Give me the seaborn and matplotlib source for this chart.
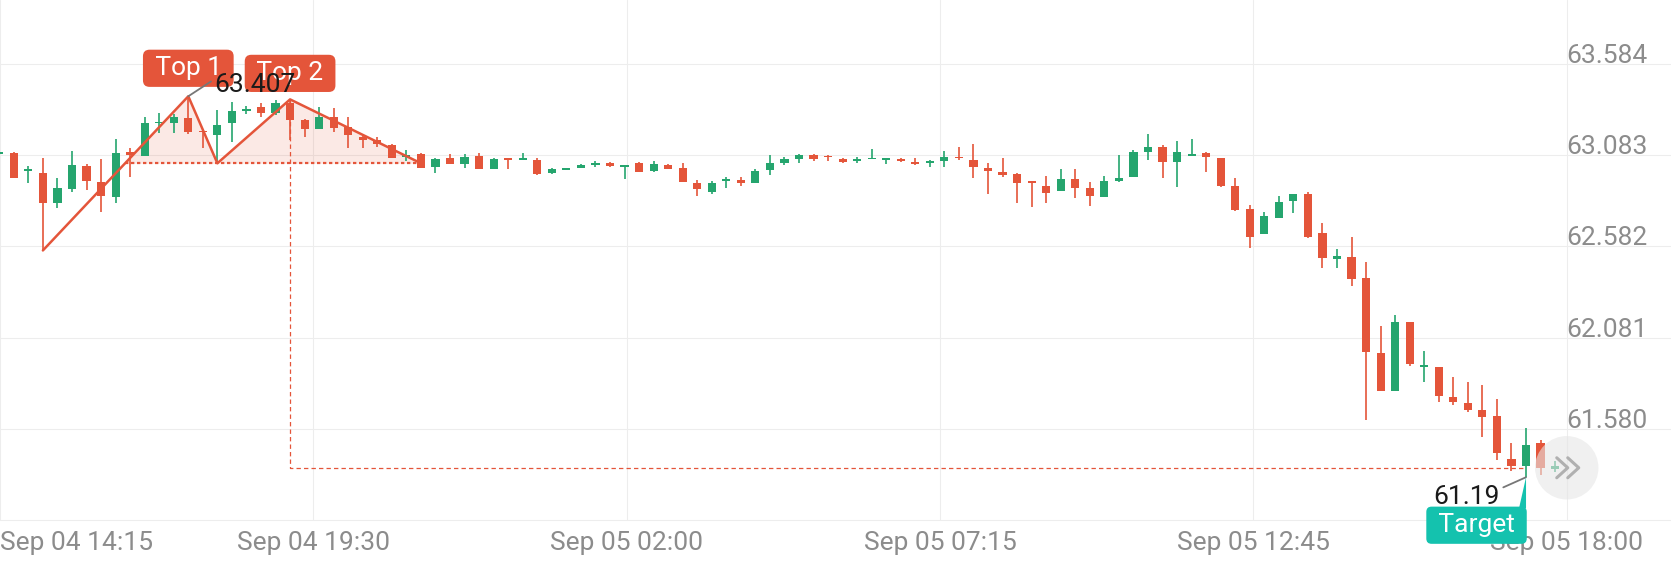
import numpy as np
import matplotlib
matplotlib.use("Agg")
import matplotlib.pyplot as plt
import matplotlib.transforms as mtransforms
from matplotlib.patches import Circle, Polygon
from matplotlib.lines import Line2D
import seaborn as sns

# OHLC por vela (indice = posicion en el eje)
opens = [63.090, 63.097, 62.996, 62.987, 62.819, 62.898, 63.024, 62.938, 62.855, 63.099,
         63.079, 63.258, 63.262, 63.286, 63.218, 63.194, 63.258, 63.328, 63.346, 63.313,
         63.368, 63.277, 63.225, 63.291, 63.240, 63.185, 63.167, 63.139, 63.071, 63.090,
         63.021, 63.066, 63.033, 63.079, 63.010, 63.066, 63.057, 63.057, 62.984, 63.004,
         63.013, 63.030, 63.043, 63.021, 63.039, 62.999, 63.030, 63.012, 62.929, 62.883,
         62.942, 62.947, 62.933, 63.002, 63.043, 63.063, 63.085, 63.079, 63.063, 63.052,
         63.061, 63.058, 63.063, 63.048, 63.039, 63.054, 63.076, 63.057, 63.012, 62.993,
         62.980, 62.938, 62.915, 62.889, 62.953, 62.902, 62.856, 62.944, 62.962, 63.103,
         63.131, 63.045, 63.081, 63.098, 63.066, 62.914, 62.786, 62.649, 62.737, 62.834,
         62.870, 62.654, 62.515, 62.526, 62.407, 61.995, 61.790, 62.165, 61.918, 61.922,
         61.757, 61.724, 61.681, 61.651, 61.413, 61.377, 61.501, 61.358]
highs = [63.100, 63.103, 63.024, 63.070, 62.956, 63.106, 63.033, 63.061, 63.172, 63.125,
         63.291, 63.317, 63.310, 63.407, 63.222, 63.331, 63.377, 63.353, 63.372, 63.386,
         63.390, 63.280, 63.350, 63.341, 63.291, 63.200, 63.185, 63.145, 63.112, 63.097,
         63.066, 63.088, 63.088, 63.094, 63.070, 63.066, 63.094, 63.070, 63.015, 63.012,
         63.033, 63.052, 63.048, 63.030, 63.048, 63.052, 63.035, 63.039, 62.947, 62.942,
         62.962, 62.966, 63.006, 63.085, 63.076, 63.088, 63.088, 63.085, 63.066, 63.076,
         63.116, 63.066, 63.066, 63.070, 63.057, 63.109, 63.127, 63.143, 63.039, 63.066,
         62.984, 62.938, 62.969, 63.008, 63.006, 62.938, 62.971, 63.085, 63.112, 63.198,
         63.140, 63.162, 63.171, 63.103, 63.066, 62.956, 62.810, 62.769, 62.861, 62.870,
         62.883, 62.713, 62.566, 62.632, 62.495, 62.145, 62.205, 62.165, 62.008, 61.922,
         61.863, 61.839, 61.822, 61.743, 61.501, 61.583, 61.516, 61.404]
lows = [63.085, 62.956, 62.929, 62.560, 62.791, 62.883, 62.892, 62.773, 62.819, 62.965,
        63.079, 63.203, 63.207, 63.198, 63.121, 63.039, 63.158, 63.310, 63.295, 63.304,
        63.167, 63.185, 63.225, 63.212, 63.121, 63.121, 63.126, 63.066, 63.053, 63.011,
        62.988, 63.035, 63.012, 63.008, 63.008, 63.006, 63.057, 62.975, 62.979, 63.002,
        63.012, 63.017, 63.021, 62.953, 62.990, 62.993, 63.006, 62.935, 62.860, 62.871,
        62.902, 62.916, 62.929, 62.975, 63.030, 63.043, 63.052, 63.052, 63.039, 63.039,
        63.061, 63.034, 63.048, 63.030, 63.017, 63.021, 63.057, 62.957, 62.871, 62.966,
        62.819, 62.797, 62.823, 62.889, 62.850, 62.805, 62.852, 62.938, 62.962, 63.057,
        62.960, 62.907, 63.081, 62.990, 62.911, 62.777, 62.572, 62.649, 62.737, 62.768,
        62.627, 62.462, 62.462, 62.365, 61.630, 61.790, 61.790, 61.927, 61.839, 61.728,
        61.710, 61.673, 61.534, 61.406, 61.349, 61.314, 61.327, 61.345]
closes = [63.098, 62.960, 62.999, 62.819, 62.901, 63.029, 62.943, 62.861, 63.093, 63.084,
          63.262, 63.267, 63.295, 63.211, 63.210, 63.249, 63.328, 63.337, 63.313, 63.368,
          63.277, 63.225, 63.295, 63.231, 63.194, 63.167, 63.145, 63.066, 63.084, 63.011,
          63.061, 63.035, 63.076, 63.008, 63.065, 63.057, 63.065, 62.979, 63.006, 63.010,
          63.030, 63.039, 63.026, 63.030, 62.993, 63.033, 63.008, 62.935, 62.896, 62.933,
          62.953, 62.933, 62.999, 63.039, 63.061, 63.085, 63.061, 63.072, 63.048, 63.061,
          63.066, 63.066, 63.052, 63.035, 63.052, 63.076, 63.066, 63.017, 62.999, 62.975,
          62.929, 62.933, 62.874, 62.951, 62.905, 62.860, 62.942, 62.960, 63.103, 63.131,
          63.045, 63.103, 63.088, 63.076, 62.915, 62.782, 62.636, 62.749, 62.828, 62.870,
          62.636, 62.517, 62.530, 62.401, 62.004, 61.790, 62.169, 61.935, 61.931, 61.762,
          61.729, 61.684, 61.644, 61.446, 61.377, 61.492, 61.364, 61.377]

x_ticks = [0.05, 21.6, 43.15, 64.7, 86.25, 107.8]
x_labels = ['Sep 04 14:15', 'Sep 04 19:30', 'Sep 05 02:00',
            'Sep 05 07:15', 'Sep 05 12:45', 'Sep 05 18:00']
y_ticks = [63.584, 63.083, 62.582, 62.081, 61.580]

# Doble techo
pattern_x = [3, 13, 15, 20, 29]
pattern_y = [62.560, 63.407, 63.039, 63.390, 63.039]
neckline = 63.039
target_idx = 105
target_low = 61.314
target_level = 61.366

RED = '#E4553A'
GREEN = '#25A56E'
TEAL = '#14C2AE'
GRID = '#EDEDED'
LABEL = '#8C8C8C'
THIN = '\u2009'

sns.set_theme(style='white')
plt.rcParams['font.family'] = ['Roboto', 'DejaVu Sans']

fig = plt.figure(figsize=(16.71, 5.62), dpi=100)
ax = fig.add_axes([0, 42 / 562, 1, 520 / 562])
ax.set_xlim(0.127, 114.97)
ax.set_ylim(61.079, 63.936)

# Velas
o = np.array(opens)
c = np.array(closes)
x = np.arange(len(o))
colores = np.where(c >= o, GREEN, RED)
ax.vlines(x, lows, highs, colors=colores, lw=1.2, zorder=3)
cuerpo = np.maximum(np.abs(c - o), 0.009)
ax.bar(x, cuerpo, bottom=np.minimum(o, c), width=0.56, color=colores,
       linewidth=0, zorder=3)

# Patron
xx = np.linspace(pattern_x[0], pattern_x[-1], 800)
yy = np.interp(xx, pattern_x, pattern_y)
ax.fill_between(xx, neckline, yy, where=yy >= neckline, interpolate=True,
                color=RED, alpha=0.13, lw=0, zorder=2)
x_cruce = np.interp(neckline, pattern_y[:2], pattern_x[:2])
ax.hlines(neckline, x_cruce, pattern_x[-1], colors=RED, lw=1.6,
          linestyles=(0, (1.5, 1.2)), zorder=4)
ax.plot([pattern_x[3], pattern_x[3], target_idx],
        [pattern_y[3], target_level, target_level],
        color=RED, lw=0.9, ls=(0, (3.5, 2.5)), zorder=2)
sns.lineplot(x=pattern_x, y=pattern_y, sort=False, ax=ax, color=RED,
             lw=1.8, zorder=5)

# Ejes y rejilla
ax.set_yticks(y_ticks)
ax.set_yticklabels([])
ax.set_xticks(x_ticks, x_labels, fontsize=19, color=LABEL)
ax.get_xticklabels()[0].set_ha('left')
ax.tick_params(length=0, pad=8)
ax.grid(True, color=GRID, lw=0.8)
for lado in ['top', 'left', 'right']:
    ax.spines[lado].set_visible(False)
ax.spines['bottom'].set_color(GRID)
ax.spines['bottom'].set_linewidth(0.8)

for v in y_ticks:
    ax.annotate(f'{v:.3f}', xy=(x_ticks[-1], v), xytext=(0, 1),
                textcoords='offset pixels', ha='left', va='baseline',
                fontsize=19, color=LABEL, zorder=6)

# Etiquetas
caja = dict(boxstyle='round,pad=0.25,rounding_size=0.25', fc=RED, ec='none')
ax.annotate(THIN + 'Top 1' + THIN, xy=(pattern_x[1], pattern_y[1]), xytext=(0, 28),
            textcoords='offset pixels', ha='center', va='center', fontsize=19,
            color='white', bbox=caja, zorder=7)
ax.annotate(THIN + 'Top 2' + THIN, xy=(pattern_x[3], pattern_y[3]), xytext=(0, 26),
            textcoords='offset pixels', ha='center', va='center', fontsize=19,
            color='white', bbox=caja, zorder=7)
ax.annotate(f'{pattern_y[1]:.3f}', xy=(pattern_x[1], pattern_y[1]), xytext=(26, 11),
            textcoords='offset pixels', ha='left', va='center', fontsize=19,
            color='#1a1a1a', zorder=8,
            arrowprops=dict(arrowstyle='-', color='#777777', lw=1.3,
                            shrinkA=0, shrinkB=0, relpos=(0, 0.75)))

ax.annotate('61.19', xy=(target_idx, target_low), xytext=(-26, -20),
            textcoords='offset pixels', ha='right', va='center', fontsize=19,
            color='#1a1a1a', zorder=6,
            arrowprops=dict(arrowstyle='-', color='#777777', lw=1.3,
                            shrinkA=0, shrinkB=0, relpos=(1, 0.85)))
ax.annotate(THIN + 'Target' + THIN, xy=(target_idx, target_low), xytext=(-49.5, -48),
            textcoords='offset pixels', ha='center', va='center', fontsize=19,
            color='white', zorder=8, annotation_clip=False,
            bbox=dict(boxstyle='round,pad=0.25,rounding_size=0.2', fc=TEAL, ec='none'))
px, py = ax.transData.transform((target_idx, target_low))
ax.add_patch(Polygon([(px - 7, py - 31), (px, py), (px, py - 31)], closed=True,
                     fc=TEAL, ec='none', transform=mtransforms.IdentityTransform(),
                     zorder=8, clip_on=False))

# Boton de desplazamiento
cx, cy = ax.transData.transform((x_ticks[-1], target_level))
ax.add_patch(Circle((cx, cy), 31.7, fc='#E6E6E6', ec='none', alpha=0.6,
                    transform=mtransforms.IdentityTransform(), zorder=6))
for dx in (-10, 1):
    ax.add_line(Line2D([cx + dx, cx + dx + 11, cx + dx], [cy + 10, cy, cy - 10],
                       color='#B0B0B0', lw=2.2, solid_capstyle='round',
                       transform=mtransforms.IdentityTransform(), zorder=7))

fig.savefig('out.png', dpi=100)
plt.close(fig)
